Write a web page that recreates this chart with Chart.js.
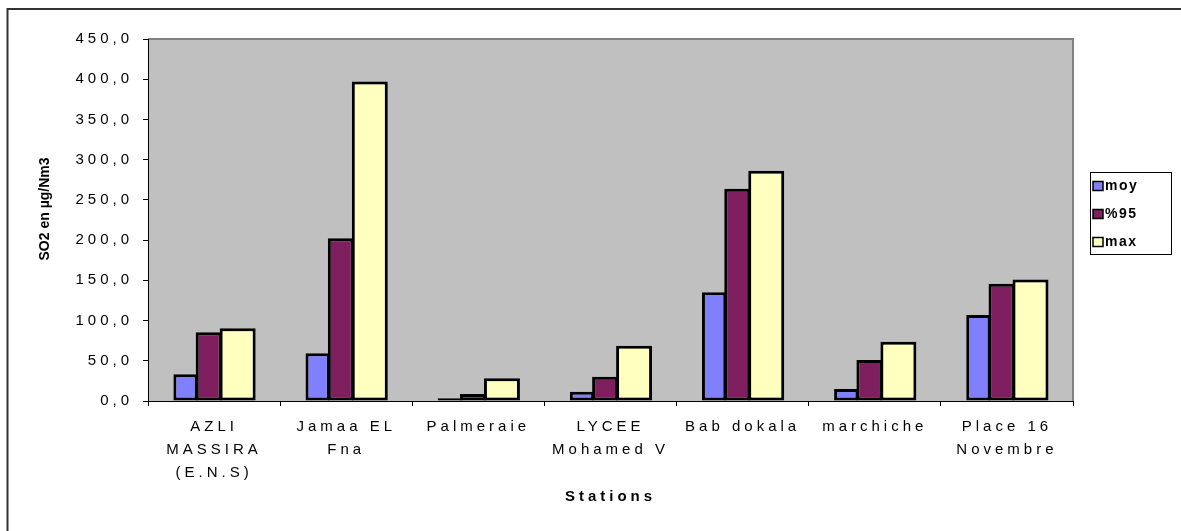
<!DOCTYPE html>
<html>
<head>
<meta charset="utf-8">
<script src="https://cdn.jsdelivr.net/npm/chart.js@4/dist/chart.umd.min.js"></script>
<style>
  html, body { margin: 0; padding: 0; background: #fff; }
  #wrap { width: 1181px; height: 531px; position: relative; }
</style>
</head>
<body>
<div id="wrap"><canvas id="c" width="1181" height="531"></canvas></div>
<script>
// Stations (multi-line labels as displayed under the axis)
const stations = [
  ['AZLI', 'MASSIRA', '(E.N.S)'],
  ['Jamaa EL', 'Fna'],
  'Palmeraie',
  ['LYCEE', 'Mohamed V'],
  'Bab dokala',
  'marchiche',
  ['Place 16', 'Novembre']
];

// SO2 concentrations, µg/Nm3
const moy = [33.2, 59.3, 3.3, 11.6, 135.2, 14.9, 107.0];
const p95 = [85.4, 202.4, 8.7, 30.3, 263.8, 51.0, 145.6];
const maxi = [90.4, 397.3, 28.2, 68.8, 286.2, 73.8, 151.0];

const seriesNames = ['moy', '%95', 'max'];
const yTickValues = [0, 50, 100, 150, 200, 250, 300, 350, 400, 450];

const FONT = '"Liberation Sans", Arial, sans-serif';
const fmt = v => v.toFixed(1).replace('.', ',');

// plot background, frame and outer border
const backdrop = {
  id: 'backdrop',
  beforeDraw(chart) {
    const { ctx, chartArea: a } = chart;
    ctx.save();
    ctx.fillStyle = '#C0C0C0';
    ctx.fillRect(a.left, a.top, a.right - a.left, a.bottom - a.top);
    ctx.strokeStyle = '#808080';
    ctx.lineWidth = 2;
    ctx.beginPath();
    ctx.moveTo(a.left, a.top);
    ctx.lineTo(a.right, a.top);
    ctx.lineTo(a.right, a.bottom);
    ctx.stroke();
    ctx.strokeStyle = '#333';
    ctx.lineWidth = 2;
    ctx.beginPath();
    ctx.moveTo(7.5, 531);
    ctx.lineTo(7.5, 9);
    ctx.lineTo(1181, 9);
    ctx.stroke();
    ctx.restore();
    // wide letter spacing used by the axis texts
    ctx.letterSpacing = '4px';
  }
};

// rotated value-axis title and boxed legend
const overlay = {
  id: 'overlay',
  afterDraw(chart) {
    const { ctx } = chart;
    ctx.save();
    ctx.letterSpacing = '0px';
    ctx.fillStyle = '#000';
    ctx.font = 'bold 14px ' + FONT;
    ctx.textAlign = 'center';
    ctx.textBaseline = 'middle';
    ctx.translate(45, 209);
    ctx.rotate(-Math.PI / 2);
    ctx.fillText('SO2 en µg/Nm3', 0, 0);
    ctx.restore();

    ctx.save();
    ctx.letterSpacing = '0px';
    ctx.fillStyle = '#fff';
    ctx.fillRect(1090.5, 172.5, 81, 82);
    ctx.strokeStyle = '#000';
    ctx.lineWidth = 1;
    ctx.strokeRect(1090.5, 172.5, 81, 82);
    ctx.font = 'bold 14px ' + FONT;
    ctx.letterSpacing = '1.5px';
    ctx.textAlign = 'left';
    ctx.textBaseline = 'middle';
    const items = chart.data.datasets.filter(d => d.label);
    items.forEach((d, i) => {
      const y = 186 + i * 28;
      ctx.fillStyle = d.backgroundColor;
      ctx.fillRect(1093, y - 4.5, 10, 9);
      ctx.strokeStyle = '#000';
      ctx.lineWidth = 1.5;
      ctx.strokeRect(1093, y - 4.5, 10, 9);
      ctx.fillStyle = '#000';
      ctx.fillText(d.label, 1105, y + 0.5);
    });
    ctx.restore();
  }
};

const barStyle = { borderColor: '#000', borderWidth: 3, borderSkipped: false, inflateAmount: 0 };

new Chart(document.getElementById('c'), {
  type: 'bar',
  data: {
    labels: stations,
    datasets: [
      // group layout: per-series slot widths give the three bars their own widths
      { label: seriesNames[0], data: moy, backgroundColor: '#8080FF',
        categoryPercentage: 0.5759, barPercentage: 1.277, ...barStyle },
      { label: seriesNames[1], data: p95, backgroundColor: '#801F60',
        categoryPercentage: 0.3268, barPercentage: 2.407, ...barStyle },
      { label: seriesNames[2], data: maxi, backgroundColor: '#FFFFC0',
        categoryPercentage: 1.428, barPercentage: 0.7627, ...barStyle },
      // empty fourth slot that balances the group around the category centre
      { label: '', data: [], backgroundColor: 'rgba(0,0,0,0)' }
    ]
  },
  options: {
    responsive: false,
    animation: false,
    events: [],
    layout: { padding: { top: 39, right: 108, bottom: 0, left: 0 } },
    plugins: { legend: { display: false }, tooltip: { enabled: false } },
    scales: {
      x: {
        grid: { display: true, drawOnChartArea: false, drawTicks: true, tickLength: 5, tickColor: '#000', offset: true },
        border: { display: true, color: '#000', width: 1 },
        ticks: {
          color: '#000', autoSkip: false, maxRotation: 0, minRotation: 0, padding: 9,
          font: { family: FONT, size: 15, lineHeight: 1.53 }
        },
        title: {
          display: true, text: 'Stations', color: '#000',
          font: { family: FONT, size: 15, weight: 'bold', lineHeight: 1.2 },
          padding: { top: 0, bottom: 25 }
        },
        afterFit(scale) { scale.height = 130; }
      },
      y: {
        min: 0, max: 450,
        afterBuildTicks(scale) { scale.ticks = yTickValues.map(v => ({ value: v })); },
        grid: { display: true, drawOnChartArea: false, drawTicks: true, tickLength: 5, tickColor: '#000' },
        border: { display: true, color: '#000', width: 1 },
        ticks: {
          color: '#000', padding: 10,
          font: { family: FONT, size: 15 },
          callback: v => fmt(v)
        },
        afterFit(scale) { scale.width = 148; }
      }
    }
  },
  plugins: [backdrop, overlay]
});
</script>
</body>
</html>
